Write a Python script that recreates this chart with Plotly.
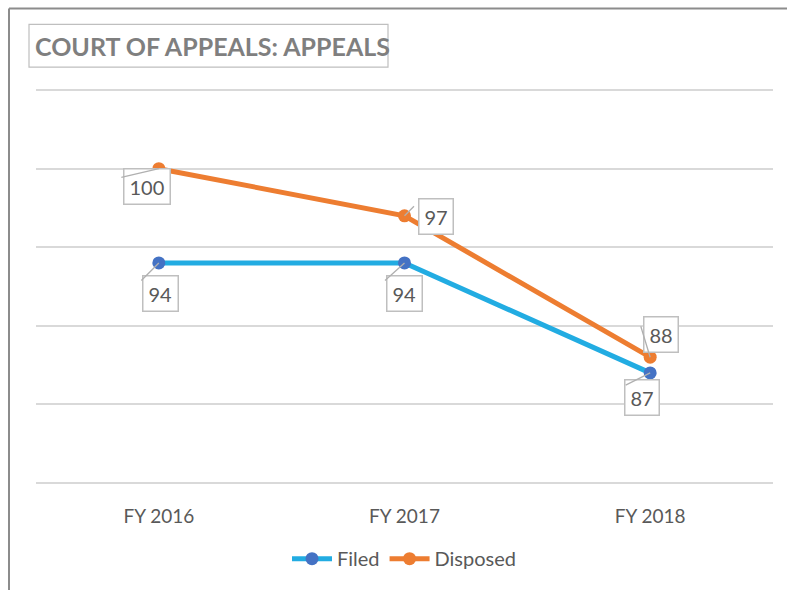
import plotly.graph_objects as go

categories = ["FY 2016", "FY 2017", "FY 2018"]
filed = [94, 94, 87]
disposed = [100, 97, 88]

# label box centre offsets (pixels, +y down) relative to the point
filed_offsets = [(2, 31), (0, 31), (-8, 25)]
disposed_offsets = [(-12, 18), (31, 1), (11, -23)]
# leader line end offsets (pixels, +y down)
filed_leaders = [(-19, 19), (-21, 19), (-26, 13)]
disposed_leaders = [(-39, 9), (11, -11), (-10, -33)]

FONT = "Lato"
TXT = "#595959"

L, R, T, B = 36, 14, 87, 102
W, H = 787, 590
PW, PH = W - L - R, H - T - B


def px(x):
    return (x - L) / PW


def py(y):
    return (H - B - y) / PH


fig = go.Figure()
fig.add_trace(go.Scatter(
    x=list(range(len(categories))), y=filed, name="Filed", mode="lines+markers",
    line=dict(color="#22ACE2", width=5),
    marker=dict(color="#4472C4", size=13),
))
fig.add_trace(go.Scatter(
    x=list(range(len(categories))), y=disposed, name="Disposed", mode="lines+markers",
    line=dict(color="#ED7D31", width=5),
    marker=dict(color="#ED7D31", size=13),
))

annotations = []
for vals, offs in ((disposed, disposed_offsets), (filed, filed_offsets)):
    for i, (v, (dx, dy)) in enumerate(zip(vals, offs)):
        annotations.append(dict(
            x=i, y=v, xref="x", yref="y", text=str(v),
            showarrow=False, xshift=dx, yshift=-dy,
            font=dict(family=FONT, size=20, color=TXT),
            bgcolor="white", bordercolor="#bfbfbf", borderwidth=1.5, borderpad=5,
        ))
for vals, offs in ((disposed, disposed_leaders), (filed, filed_leaders)):
    for i, (v, (dx, dy)) in enumerate(zip(vals, offs)):
        annotations.append(dict(
            x=i, y=v, xref="x", yref="y", text="&nbsp;",
            font=dict(size=1), showarrow=True, arrowhead=0, arrowwidth=1.3,
            arrowcolor="#b0b0b0", ax=dx, ay=dy, standoff=0,
        ))

# title text
annotations.append(dict(
    x=px(33), y=py(45.5), xref="paper", yref="paper",
    xanchor="left", yanchor="middle", showarrow=False,
    text="<b>COURT OF APPEALS: APPEALS</b>",
    font=dict(family=FONT, size=25, color="#7f7f7f"),
))

fig.update_layout(
    width=W, height=H,
    margin=dict(l=L, r=R, t=T, b=B),
    paper_bgcolor="white", plot_bgcolor="white",
    showlegend=True,
    legend=dict(orientation="h", xanchor="center", x=0.5, yanchor="middle", y=py(561),
                font=dict(family=FONT, size=20, color=TXT), itemwidth=40,
                traceorder="normal"),
    xaxis=dict(range=[-0.5, 2.5], tickmode="array", tickvals=list(range(len(categories))),
               ticktext=categories, showgrid=False, zeroline=False, showline=False,
               tickfont=dict(family=FONT, size=19, color=TXT), ticks="",
               ticklabelstandoff=17),
    yaxis=dict(range=[79.8, 105.2], tickvals=[80, 85, 90, 95, 100, 105],
               showticklabels=False, showgrid=True,
               gridcolor="#d9d9d9", gridwidth=1.5, zeroline=False, showline=False),
    annotations=annotations,
    shapes=[
        dict(type="rect", xref="paper", yref="paper", layer="above",
             x0=px(29), x1=px(388), y0=py(24), y1=py(67),
             line=dict(color="#bfbfbf", width=1.2), fillcolor="rgba(0,0,0,0)"),
        dict(type="line", xref="paper", yref="paper",
             x0=px(9), x1=px(800), y0=py(8), y1=py(8),
             line=dict(color="#8c8c8c", width=2)),
        dict(type="line", xref="paper", yref="paper",
             x0=px(9), x1=px(9), y0=py(8), y1=py(600),
             line=dict(color="#8c8c8c", width=2)),
    ],
)

fig.write_html("out.html", config={"displayModeBar": False},
               post_script="document.body.style.margin='0';document.body.style.overflow='hidden';")
